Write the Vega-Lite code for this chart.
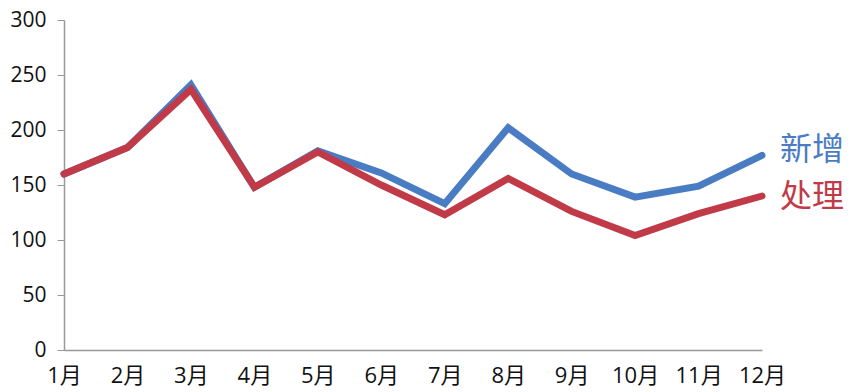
{
  "$schema": "https://vega.github.io/schema/vega-lite/v6.json",
  "width": 698,
  "height": 330,
  "autosize": {"type": "none"},
  "padding": {"left": 64, "top": 20, "right": 92, "bottom": 42},
  "background": "white",
  "config": {
    "view": {"stroke": null},
    "font": "Noto Sans CJK SC",
    "axis": {"labelFont": "Open Sans, Noto Sans CJK SC", "labelColor": "#111", "grid": false, "domainColor": "#999", "tickColor": "#999", "domainWidth": 1.5}
  },
  "data": {
    "values": [
      {"month": "1月", "series": "新增", "value": 160},
      {"month": "2月", "series": "新增", "value": 184},
      {"month": "3月", "series": "新增", "value": 241},
      {"month": "4月", "series": "新增", "value": 148},
      {"month": "5月", "series": "新增", "value": 181},
      {"month": "6月", "series": "新增", "value": 161},
      {"month": "7月", "series": "新增", "value": 133},
      {"month": "8月", "series": "新增", "value": 202},
      {"month": "9月", "series": "新增", "value": 160},
      {"month": "10月", "series": "新增", "value": 139},
      {"month": "11月", "series": "新增", "value": 149},
      {"month": "12月", "series": "新增", "value": 177},
      {"month": "1月", "series": "处理", "value": 160},
      {"month": "2月", "series": "处理", "value": 184},
      {"month": "3月", "series": "处理", "value": 237},
      {"month": "4月", "series": "处理", "value": 148},
      {"month": "5月", "series": "处理", "value": 180},
      {"month": "6月", "series": "处理", "value": 150},
      {"month": "7月", "series": "处理", "value": 123},
      {"month": "8月", "series": "处理", "value": 156},
      {"month": "9月", "series": "处理", "value": 126},
      {"month": "10月", "series": "处理", "value": 104},
      {"month": "11月", "series": "处理", "value": 124},
      {"month": "12月", "series": "处理", "value": 140}
    ]
  },
  "encoding": {
    "x": {
      "field": "month", "type": "ordinal",
      "sort": ["1月","2月","3月","4月","5月","6月","7月","8月","9月","10月","11月","12月"],
      "scale": {"type": "point", "padding": 0},
      "axis": {"title": null, "ticks": false, "labelAngle": 0, "labelFontSize": 22, "labelPadding": 15, "labelDx": -6}
    },
    "y": {
      "field": "value", "type": "quantitative",
      "scale": {"domain": [0, 300]},
      "axis": {"title": null, "values": [0, 50, 100, 150, 200, 250, 300], "tickSize": 7, "labelFontSize": 21, "labelPadding": 11}
    },
    "color": {
      "field": "series", "type": "nominal",
      "scale": {"domain": ["新增", "处理"], "range": ["#4A7CC4", "#C03A47"]},
      "legend": null
    }
  },
  "layer": [
    {
      "transform": [{"filter": "datum.series === '新增'"}],
      "mark": {"type": "line", "strokeWidth": 7, "strokeCap": "round"}
    },
    {
      "transform": [{"filter": "datum.series === '处理'"}],
      "mark": {"type": "line", "strokeWidth": 7, "strokeCap": "round"}
    },
    {
      "transform": [{"filter": "datum.month === '12月' && datum.series === '新增'"}],
      "mark": {"type": "text", "align": "left", "baseline": "middle", "dx": 18, "dy": -5, "fontSize": 32},
      "encoding": {"text": {"field": "series"}}
    },
    {
      "transform": [{"filter": "datum.month === '12月' && datum.series === '处理'"}],
      "mark": {"type": "text", "align": "left", "baseline": "middle", "dx": 18, "dy": 1, "fontSize": 32},
      "encoding": {"text": {"field": "series"}}
    }
  ]
}
